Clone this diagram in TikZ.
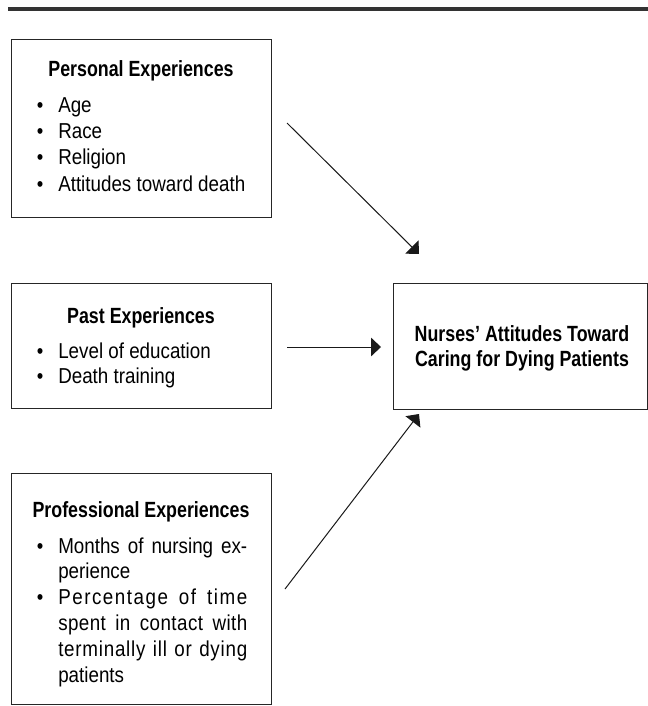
\documentclass[tikz,border=0pt]{standalone}
\usepackage{fontspec}
\setmainfont{Liberation Sans}[FakeStretch=0.87]
\newfontfamily\headfont{Liberation Sans}[FakeStretch=0.81]
\usetikzlibrary{arrows.meta}
\newcommand{\fullline}[1]{\makebox[141.75pt][s]{#1}}

\begin{document}
\begin{tikzpicture}[x=0.75pt, y=-0.75pt,
  box/.style={draw=black!85, line width=1.1pt, inner sep=0pt, anchor=north west},
  head/.style={font=\fontsize{16.5}{20}\headfont\bfseries, anchor=base, inner sep=0pt},
  item/.style={font=\fontsize{16.2}{20}\selectfont, anchor=base west, inner sep=0pt},
  dot/.style={font=\fontsize{16}{20}\selectfont, anchor=base, inner sep=0pt},
  link/.style={draw=black!90, line width=0.75pt, -{Triangle[length=7.5pt,width=14pt]}}]
			%%%%% START %%%%%
			\useasboundingbox (0, 0) rectangle (648, 706);
			
			\draw[line width=2.6pt, color=black!80] (8, 9) -- (648, 9);
			
			% personal
			\node[box, minimum width=195pt, minimum height=133.5pt] (pers) at (11, 39) {};
			\node[head] (persT) at (141, 77) {Personal Experiences};
			\node[dot] (persD1) at (40, 113) {•};
			\node[item] (persI1) at (58, 113) {Age};
			\node[dot] (persD2) at (40, 139) {•};
			\node[item] (persI2) at (58, 139) {Race};
			\node[dot] (persD3) at (40, 165) {•};
			\node[item] (persI3) at (58, 165) {Religion};
			\node[dot] (persD4) at (40, 191) {•};
			\node[item] (persI4) at (58, 191) {Attitudes toward death};
			
			% past
			\node[box, minimum width=195pt, minimum height=93.75pt] (past) at (11, 283) {};
			\node[head] (pastT) at (141, 323) {Past Experiences};
			\node[dot] (pastD1) at (40, 358) {•};
			\node[item] (pastI1) at (58, 358) {Level of education};
			\node[dot] (pastD2) at (40, 383) {•};
			\node[item] (pastI2) at (58, 383) {Death training};
			
			% professional
			\node[box, minimum width=195pt, minimum height=173.25pt] (prof) at (11, 473) {};
			\node[head] (profT) at (141, 517) {Professional Experiences};
			\node[dot] (profD1) at (40, 553) {•};
			\node[item] (profI1) at (58, 553) {\fullline{Months of nursing ex-}};
			\node[item] (profI2) at (58, 578) {perience};
			\node[dot] (profD2) at (40, 604) {•};
			\node[item] (profI3) at (58, 604) {\fullline{\addfontfeature{LetterSpace=7}Percentage of time}};
			\node[item] (profI4) at (58, 630) {\fullline{\addfontfeature{LetterSpace=2}spent in contact with}};
			\node[item] (profI5) at (58, 656) {\fullline{\addfontfeature{LetterSpace=3.5}terminally ill or dying}};
			\node[item] (profI6) at (58, 682) {patients};
			
			% outcome
			\node[box, minimum width=190.5pt, minimum height=94.5pt] (nurse) at (393, 283) {};
			\node[head] (nurseT1) at (522, 341) {Nurses’ Attitudes Toward};
			\node[head] (nurseT2) at (522, 366) {Caring for Dying Patients};
			
			% arrows
			\coordinate (a1) at (287, 123);
			\coordinate (b1) at (419, 254);
			\coordinate (a2) at (287, 347);
			\coordinate (b2) at (381, 347);
			\coordinate (a3) at (285, 589);
			\coordinate (b3) at (419, 414);
			\draw[link] (a1) -- (b1);
			\draw[link] (a2) -- (b2);
			\draw[link] (a3) -- (b3);
			
			%%%%% END %%%%%
		\end{tikzpicture}
\end{document}
